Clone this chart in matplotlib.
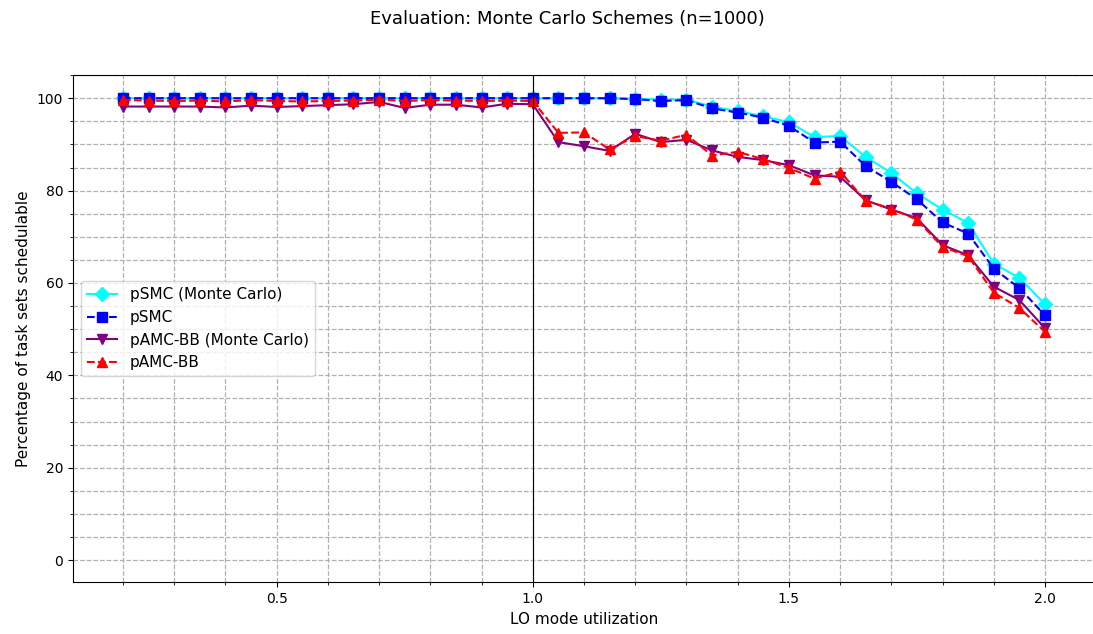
import numpy as np
import matplotlib
matplotlib.use('Agg')
import matplotlib.pyplot as plt
from matplotlib.ticker import MultipleLocator

# LO mode utilization, 0.20 .. 2.00 step 0.05
utilization = [0.20, 0.25, 0.30, 0.35, 0.40, 0.45, 0.50, 0.55, 0.60, 0.65,
               0.70, 0.75, 0.80, 0.85, 0.90, 0.95, 1.00, 1.05, 1.10, 1.15,
               1.20, 1.25, 1.30, 1.35, 1.40, 1.45, 1.50, 1.55, 1.60, 1.65,
               1.70, 1.75, 1.80, 1.85, 1.90, 1.95, 2.00]

psmc_mc = [100.0, 100.0, 100.0, 100.0, 100.0, 100.0, 100.0, 100.0, 100.0, 100.0,
           100.0, 100.0, 100.0, 100.0, 100.0, 100.0, 100.0, 100.0, 100.0, 100.0,
           99.9, 99.7, 99.7, 98.2, 97.2, 96.1, 94.8, 91.6, 91.8, 87.3,
           83.8, 79.4, 75.9, 73.0, 64.2, 61.1, 55.4]

psmc = [100.0, 100.0, 100.0, 100.0, 100.0, 100.0, 100.0, 100.0, 100.0, 100.0,
        100.0, 100.0, 100.0, 100.0, 100.0, 100.0, 100.0, 100.0, 100.0, 100.0,
        99.8, 99.4, 99.6, 97.8, 96.9, 95.8, 94.0, 90.4, 90.6, 85.3,
        81.9, 78.1, 73.1, 70.7, 63.1, 58.9, 53.0]

pamc_mc = [98.2, 98.2, 98.2, 98.2, 98.0, 98.4, 98.1, 98.3, 98.5, 98.7,
           99.2, 97.9, 98.6, 98.6, 98.0, 98.8, 98.7, 90.5, 89.6, 88.6,
           92.3, 90.5, 91.0, 88.7, 87.3, 86.6, 85.5, 83.3, 83.0, 77.9,
           75.9, 74.0, 68.2, 66.0, 59.2, 56.3, 50.2]

pamc = [99.6, 99.5, 99.4, 99.5, 99.3, 99.6, 99.4, 99.3, 99.4, 99.5,
        99.7, 99.4, 99.6, 99.5, 99.4, 99.5, 99.4, 92.5, 92.6, 88.9,
        91.8, 90.8, 92.1, 87.6, 88.4, 86.8, 84.9, 82.6, 84.1, 77.8,
        76.1, 73.7, 67.8, 65.8, 57.9, 54.6, 49.4]


def main():
    fig = plt.figure(figsize=(10.93, 6.34), dpi=100)
    # axes runs slightly past the right edge, like the cropped original
    ax = fig.add_axes([0.0668, 0.0815, 0.935, 0.800])

    ax.plot(utilization, psmc_mc, color='cyan', marker='D', markersize=7,
            linestyle='-', linewidth=1.5, label='pSMC (Monte Carlo)')
    ax.plot(utilization, psmc, color='blue', marker='s', markersize=7,
            linestyle='--', linewidth=1.5, label='pSMC')
    ax.plot(utilization, pamc_mc, color='purple', marker='v', markersize=7,
            linestyle='-', linewidth=1.5, label='pAMC-BB (Monte Carlo)')
    ax.plot(utilization, pamc, color='red', marker='^', markersize=7,
            linestyle='--', linewidth=1.5, label='pAMC-BB')

    ax.axvline(1.0, color='black', linewidth=0.8)

    ax.set_xlim(0.1025, 2.0975)
    ax.set_ylim(-4.8, 105)
    ax.xaxis.set_major_locator(MultipleLocator(0.5))
    ax.xaxis.set_minor_locator(MultipleLocator(0.1))
    ax.yaxis.set_major_locator(MultipleLocator(20))
    ax.yaxis.set_minor_locator(MultipleLocator(5))
    ax.grid(True, which='both', linestyle='--', color='#b0b0b0', linewidth=0.9)
    ax.set_axisbelow(True)

    ax.set_xlabel('LO mode utilization', fontsize=11)
    ax.set_ylabel('Percentage of task sets schedulable', fontsize=11)
    fig.suptitle('Evaluation: Monte Carlo Schemes (n=1000)', x=0.519, y=0.985, fontsize=13)
    ax.legend(loc='center left', fontsize=11)

    fig.savefig('out.png', dpi=100)


if __name__ == "__main__":
    main()
